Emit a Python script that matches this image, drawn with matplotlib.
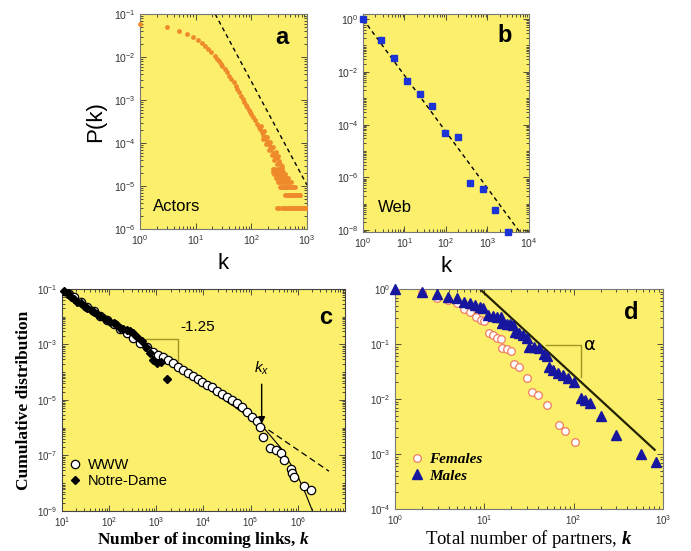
import numpy as np
import matplotlib
matplotlib.use('Agg')
import matplotlib.pyplot as plt
from matplotlib.ticker import LogLocator, NullFormatter

plt.rcParams['font.family'] = ['Liberation Sans', 'DejaVu Sans']
plt.rcParams['mathtext.default'] = 'regular'
plt.rcParams['mathtext.fontset'] = 'custom'
plt.rcParams['mathtext.it'] = 'Liberation Sans:italic'
plt.rcParams['mathtext.rm'] = 'Liberation Sans'
plt.rcParams['mathtext.bfit'] = 'Liberation Serif:italic:bold'

YELLOW = '#fbef6c'
ORANGE = '#ef8a2c'
BLUE = '#1c33d6'
NAVY = '#16169e'
PINK = '#f07c62'
OLIVE = '#a39524'

# ---- panel a: actors ----
actors_k = [1, 3, 5, 7, 9, 11, 13, 15, 17, 19, 22, 24, 26, 28, 30, 33, 36, 40, 44, 48,
            52, 56, 60, 65, 70, 75, 80, 85, 90, 95, 100, 108, 116, 125, 135, 145, 155,
            165, 175, 190, 200, 215, 230, 250, 270, 290, 310, 330, 350]
actors_p = [0.058, 0.050, 0.041, 0.034, 0.029, 0.025, 0.021, 0.018, 0.0152, 0.013,
            0.0105, 0.0092, 0.0080, 0.0070, 0.0062, 0.0053, 0.0046, 0.0037, 0.0031,
            0.0026, 0.0021, 0.0018, 0.00152, 0.00125, 0.00105, 0.00090, 0.00078,
            0.00068, 0.00060, 0.00052, 0.00047, 0.00040, 0.00034, 0.00028, 0.00024,
            0.00021, 0.00018, 0.00015, 0.000135, 0.00011, 0.0001, 8.5e-5, 7.2e-5,
            6.0e-5, 5.1e-5, 4.4e-5, 3.8e-5, 3.3e-5, 3.0e-5]
# scatter around the tail
actors_tail_k = [150, 170, 195, 220, 245, 275, 300, 160, 180, 205, 235, 260, 290]
actors_tail_p = [2.5e-4, 1.9e-4, 1.4e-4, 1.05e-4, 8.2e-5, 6.3e-5, 5.0e-5,
                 1.25e-4, 9.5e-5, 7.0e-5, 5.2e-5, 4.0e-5, 3.2e-5]
# discrete levels at the bottom of the tail (n / N)
level_p = [3.1e-6, 6.2e-6, 9.3e-6, 1.24e-5, 1.55e-5, 1.86e-5, 2.17e-5, 2.48e-5]
level_k = [
    [290, 320, 350, 380, 410, 440, 470, 500, 540, 580, 620, 660, 700, 750, 800, 850, 900, 950, 1000],
    [400, 430, 460, 490, 520, 550, 580, 610, 640, 680, 720, 750],
    [330, 350, 370, 395, 420, 445, 470, 500, 530, 560, 600],
    [300, 330, 360, 390, 420, 450, 480, 510],
    [280, 310, 340, 370, 400, 430, 460],
    [260, 290, 320, 350, 380, 410],
    [250, 280, 310, 345, 375],
    [240, 270, 300, 330, 360],
]
actors_fit_k = [22.4, 1000]
actors_fit_p = [0.1, 1.05e-5]

# ---- panel b: web ----
web_k = [1, 2.7, 5.6, 11.7, 23.5, 47, 97, 196, 389, 780, 1550, 3100]
web_p = [1.0, 0.158, 0.034, 4.6e-3, 1.4e-3, 5.0e-4, 4.9e-5, 3.5e-5, 5.9e-7,
         3.5e-7, 6.0e-8, 8.5e-9]
web_fit_k = [1, 6000]
web_fit_p = [1.0, 8.5e-9]

# ---- panel c: WWW and Notre-Dame (log10 values) ----
www_logk = [1.049, 1.153, 1.258, 1.397, 1.537, 1.676, 1.816, 1.955, 2.095, 2.234,
            2.374, 2.513, 2.653, 2.792, 2.932, 3.036, 3.141, 3.245, 3.350, 3.455,
            3.559, 3.664, 3.768, 3.873, 3.978, 4.082, 4.187, 4.291, 4.396, 4.501,
            4.605, 4.710, 4.815, 4.919, 5.024, 5.128, 5.198, 5.268, 5.407, 5.547,
            5.651, 5.707, 5.847, 5.874, 5.916, 6.126, 6.279]
www_logp = [-1.060, -1.181, -1.300, -1.456, -1.637, -1.781, -1.961, -2.117, -2.261,
            -2.454, -2.598, -2.777, -2.958, -3.102, -3.258, -3.378, -3.462, -3.558,
            -3.678, -3.799, -3.918, -4.039, -4.134, -4.255, -4.339, -4.459, -4.543,
            -4.663, -4.784, -4.879, -5.000, -5.120, -5.240, -5.420, -5.600, -5.744,
            -5.960, -6.321, -6.742, -6.801, -6.921, -7.161, -7.498, -7.642, -7.762,
            -8.099, -8.243]
nd_logk = [1.049, 1.119, 1.188, 1.258, 1.328, 1.397, 1.467, 1.537, 1.607, 1.676,
           1.746, 1.816, 1.886, 1.955, 2.025, 2.095, 2.165, 2.234, 2.304, 2.374,
           2.444, 2.513, 2.583, 2.688, 2.778, 2.862, 2.932, 3.015, 3.106, 3.225]
nd_logp = [-1.072, -1.156, -1.276, -1.360, -1.456, -1.516, -1.601, -1.697, -1.757,
           -1.817, -1.913, -1.961, -2.057, -2.117, -2.177, -2.238, -2.297, -2.393,
           -2.441, -2.477, -2.514, -2.598, -2.717, -2.874, -3.078, -3.318, -3.558,
           -3.678, -3.643, -4.243]
www_dash_logk = [1.0, 6.66]
www_dash_logp = [-1.0, -7.566]
www_fit_logk = [1.0, 5.0, 5.3, 5.65, 6.0, 6.17, 6.31, 6.45]
www_fit_logp = [-1.0, -5.64, -6.05, -6.75, -7.75, -8.40, -9.0, -9.7]

# ---- panel d: partners (log10 values) ----
male_logk = [0, 0.298, 0.466, 0.596, 0.690, 0.775, 0.839, 0.895, 0.950, 0.988, 1.044,
             1.092, 1.137, 1.185, 1.200, 1.249, 1.286, 1.323, 1.342, 1.387, 1.435,
             1.483, 1.502, 1.558, 1.610, 1.666, 1.703, 1.722, 1.770, 1.826, 1.882,
             1.938, 2.005, 2.080, 2.124, 2.180, 2.311, 2.479, 2.758, 2.926]
male_logp = [0, -0.061, -0.097, -0.139, -0.169, -0.230, -0.260, -0.290, -0.321,
             -0.339, -0.472, -0.490, -0.502, -0.514, -0.623, -0.635, -0.641, -0.654,
             -0.775, -0.793, -0.835, -0.884, -1.047, -1.059, -1.077, -1.186, -1.210,
             -1.410, -1.471, -1.531, -1.561, -1.622, -1.682, -1.985, -2.015, -2.076,
             -2.300, -2.651, -3.002, -3.153]
female_logk = [0, 0.298, 0.466, 0.596, 0.690, 0.775, 0.839, 0.902, 0.962, 0.999,
               1.051, 1.092, 1.137, 1.185, 1.200, 1.249, 1.297, 1.334, 1.387, 1.480,
               1.539, 1.603, 1.703, 1.837, 1.908, 2.013]
female_logp = [0, -0.073, -0.157, -0.200, -0.260, -0.363, -0.411, -0.502, -0.563,
               -0.581, -0.805, -0.835, -0.896, -0.908, -1.065, -1.095, -1.120, -1.368,
               -1.410, -1.610, -1.864, -1.924, -2.106, -2.469, -2.590, -2.784]
partner_fit_logk = [0.950, 2.907]
partner_fit_logp = [0.0, -2.923]


def pw(v):
    return np.power(10.0, v)


def style(ax, xlim, ylim, xticks, yticks, spine='#777777', fs=7.5):
    ax.set_facecolor(YELLOW)
    ax.set_xscale('log')
    ax.set_yscale('log')
    ax.set_xlim(*xlim)
    ax.set_ylim(*ylim)
    ax.set_xticks(xticks)
    ax.set_yticks(yticks)
    ax.xaxis.set_minor_locator(LogLocator(base=10, subs=np.arange(1, 10), numticks=100))
    ax.yaxis.set_minor_locator(LogLocator(base=10, subs=np.arange(1, 10), numticks=100))
    ax.xaxis.set_minor_formatter(NullFormatter())
    ax.yaxis.set_minor_formatter(NullFormatter())
    ax.tick_params(which='both', direction='in', top=True, right=True,
                   labelsize=fs, colors='#333333', width=0.6, pad=3)
    ax.tick_params(which='major', length=4)
    ax.tick_params(which='minor', length=2)
    for s in ax.spines.values():
        s.set_color(spine)
        s.set_linewidth(0.8)


fig = plt.figure(figsize=(6.91, 5.51), dpi=100)

# panel a
ax = fig.add_axes([0.2026, 0.5844, 0.2417, 0.390])
style(ax, (1, 1e3), (1e-6, 1e-1), [1, 10, 100, 1000],
      [1e-6, 1e-5, 1e-4, 1e-3, 1e-2, 1e-1])
ax.scatter(actors_k, actors_p, s=12, color=ORANGE, lw=0, zorder=3, clip_on=False)
ax.scatter(actors_tail_k, actors_tail_p, s=12, color=ORANGE, lw=0, zorder=3)
for lp, lk in zip(level_p, level_k):
    ax.scatter(lk, [lp] * len(lk), s=12, color=ORANGE, lw=0, zorder=3)
ax.plot(actors_fit_k, actors_fit_p, 'k--', lw=1, dashes=(3, 2.5))
ax.text(0.85, 0.89, 'a', transform=ax.transAxes, ha='center', va='center',
        fontsize=17, fontweight='bold')
ax.text(0.08, 0.07, 'Actors', transform=ax.transAxes, ha='left', va='bottom',
        fontsize=12)
ax.set_ylabel('P(k)', fontsize=16, labelpad=6)
ax.set_xlabel('k', fontsize=16, labelpad=4)

# panel b
ax = fig.add_axes([0.5253, 0.5789, 0.2402, 0.3956])
style(ax, (1, 1e4), (10 ** -8.07, 10 ** 0.19), [1, 10, 100, 1000, 1e4],
      [1e-8, 1e-6, 1e-4, 1e-2, 1])
ax.plot(web_fit_k, web_fit_p, 'k--', lw=1, dashes=(3, 2.5))
ax.plot(web_k, web_p, 's', ms=5, color=BLUE, zorder=3, clip_on=False)
ax.text(0.855, 0.90, 'b', transform=ax.transAxes, ha='center', va='center',
        fontsize=17, fontweight='bold')
ax.text(0.09, 0.08, 'Web', transform=ax.transAxes, ha='left', va='bottom',
        fontsize=12)
ax.set_xlabel('k', fontsize=16, labelpad=4)

# panel c
ax = fig.add_axes([0.0897, 0.0726, 0.4096, 0.4029])
style(ax, (10, 1e7), (1e-9, 1e-1), [10, 100, 1e3, 1e4, 1e5, 1e6],
      [1e-9, 1e-7, 1e-5, 1e-3, 1e-1], spine='#444444', fs=7)
ax.plot(pw(www_dash_logk), pw(www_dash_logp), 'k--', lw=0.9, dashes=(5, 3))
ax.plot(pw(www_fit_logk), pw(www_fit_logp), 'k-', lw=0.8)
ax.plot(pw(www_logk), pw(www_logp), 'o', ms=6, mfc='white', mec='black',
        mew=0.9, zorder=3, label='WWW')
ax.plot(pw(nd_logk), pw(nd_logp), 'D', ms=4.2, color='black', zorder=4,
        label='Notre-Dame', clip_on=False)
ax.plot(pw([2.653, 3.455, 3.455]), pw([-2.802, -2.802, -3.799]), color=OLIVE, lw=1)
ax.text(pw(3.873), pw(-2.357), '-1.25', fontsize=11, ha='center', va='center')
ax.annotate('', xy=(pw(5.233), pw(-5.96)), xytext=(pw(5.233), pw(-4.33)),
            arrowprops=dict(arrowstyle='-|>', color='black', lw=1,
                            mutation_scale=10))
ax.text(pw(5.233), pw(-3.86), r'$\mathit{k_x}$', fontsize=11, ha='center',
        va='center')
ax.text(0.93, 0.87, 'c', transform=ax.transAxes, ha='center', va='center',
        fontsize=17, fontweight='bold')
ax.legend(loc='lower left', bbox_to_anchor=(0.02, 0.105), frameon=False,
          fontsize=10.5, handlelength=1.0, handletextpad=0.4, labelspacing=0.1,
          borderaxespad=0, borderpad=0)
ax.set_ylabel('Cumulative distribution', family='Liberation Serif',
              fontweight='bold', fontsize=12.5, labelpad=4)
ax.set_xlabel(r'Number of incoming links, $\mathbfit{k}$', family='Liberation Serif',
              fontweight='bold', fontsize=12.5, labelpad=1)

# panel d
ax = fig.add_axes([0.5716, 0.0762, 0.3878, 0.3993])
style(ax, (1, 1e3), (1e-4, 1), [1, 10, 100, 1000],
      [1e-4, 1e-3, 1e-2, 1e-1, 1], fs=7)
ax.plot(pw(partner_fit_logk), pw(partner_fit_logp), '-', color='#222200', lw=1.6)
ax.plot(pw(female_logk), pw(female_logp), 'o', ms=5.5, mfc='white', mec=PINK,
        mew=0.9, zorder=3, label='Females')
ax.plot(pw(male_logk), pw(male_logp), '^', ms=6.5, color=NAVY, zorder=4,
        label='Males', clip_on=False)
ax.plot(pw([1.696, 2.087, 2.087]), pw([-1.017, -1.017, -1.592]), color=OLIVE, lw=1)
ax.text(pw(2.18), pw(-1.017), r'$\alpha$', fontsize=13, ha='center', va='center',
        family='DejaVu Sans')
ax.text(0.88, 0.895, 'd', transform=ax.transAxes, ha='center', va='center',
        fontsize=17, fontweight='bold')
ax.legend(loc='lower left', bbox_to_anchor=(0.06, 0.12), frameon=False,
          handlelength=0.8, handletextpad=0.4, labelspacing=0.2,
          borderaxespad=0, borderpad=0,
          prop=dict(family='Liberation Serif', weight='bold',
                    style='italic', size=11))
ax.set_xlabel(r'Total number of partners, $\mathbfit{k}$', family='Liberation Serif',
              fontsize=13.5, labelpad=1)

fig.savefig('out.png', dpi=100)
